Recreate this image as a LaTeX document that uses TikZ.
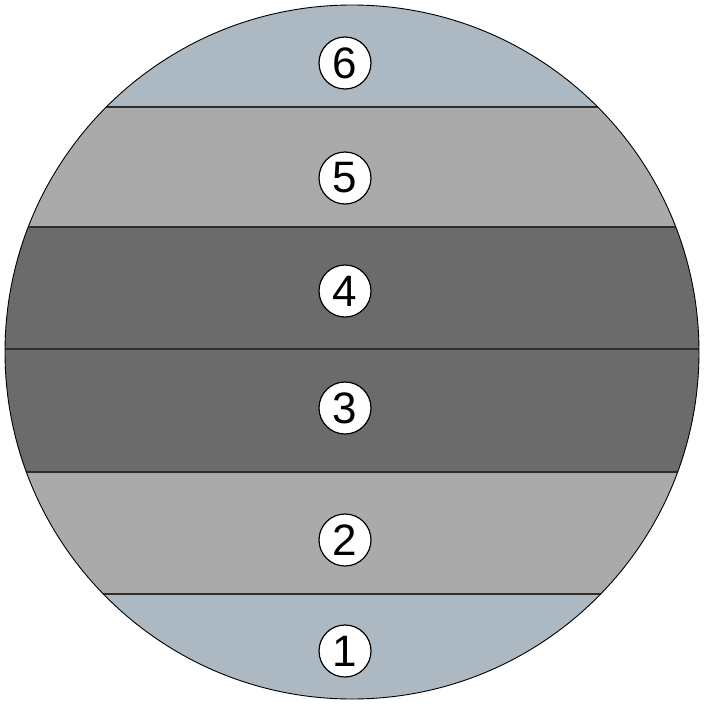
\documentclass[tikz,border=0pt]{standalone}
\usepackage{fontspec}
\setmainfont{Liberation Sans}
\definecolor{bandblue}{RGB}{172,185,194}
\definecolor{bandlight}{RGB}{170,170,170}
\definecolor{banddark}{RGB}{107,107,107}
\definecolor{lineclr}{RGB}{45,45,45}
\begin{document}
\begin{tikzpicture}[x=1pt,y=-1pt,
  numlabel/.style={circle,draw=black,line width=1.2pt,fill=white,minimum size=52pt,inner sep=0pt,font=\fontsize{44}{44}\selectfont},
  bandline/.style={draw=lineclr,line width=1.2pt}]
\useasboundingbox (0,0) rectangle (705,715);
\coordinate (c) at (352,352);
\begin{scope}
  \clip (c) circle[radius=347];
  \fill[bandblue] (0,0) rectangle (705,107);
  \fill[bandlight] (0,107) rectangle (705,227);
  \fill[banddark] (0,227) rectangle (705,472);
  \fill[bandlight] (0,472) rectangle (705,594);
  \fill[bandblue] (0,594) rectangle (705,715);
  \foreach \yy in {107,227,349,472,594} {
    \draw[bandline] (0,\yy) -- (705,\yy);
  }
\end{scope}
\draw[black,line width=0.9pt] (c) circle[radius=347];
\node[numlabel] (n6) at (345,63) {6};
\node[numlabel] (n5) at (345,178) {5};
\node[numlabel] (n4) at (345,291) {4};
\node[numlabel] (n3) at (345,408) {3};
\node[numlabel] (n2) at (345,540) {2};
\node[numlabel] (n1) at (345,651) {1};
\end{tikzpicture}
\end{document}
